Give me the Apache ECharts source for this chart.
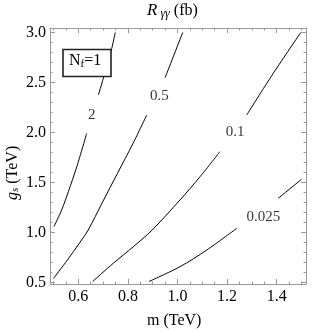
<!DOCTYPE html>
<html><head><meta charset="utf-8">
<script src="https://cdn.jsdelivr.net/npm/echarts@6/dist/echarts.min.js"></script>
<style>html,body{margin:0;padding:0;background:#fff}#c{width:332px;height:332px}</style>
</head><body><div id="c"></div>
<script>
// ---- data (m in TeV, g_s in TeV) ----
const xMajorTicks = [0.6, 0.8, 1.0, 1.2, 1.4];
const xMinorTicks = [0.5, 0.55, 0.65, 0.7, 0.75, 0.85, 0.9, 0.95, 1.05, 1.1, 1.15, 1.25, 1.3, 1.35, 1.45, 1.5];
const yMajorTicks = [0.5, 1.0, 1.5, 2.0, 2.5, 3.0];
const yMinorTicks = [0.6, 0.7, 0.8, 0.9, 1.1, 1.2, 1.3, 1.4, 1.6, 1.7, 1.8, 1.9, 2.1, 2.2, 2.3, 2.4, 2.6, 2.7, 2.8, 2.9];

// contour R_γγ = 2 fb (two segments, gap for the label)
const contour2 = [
  [[0.502, 1.06], [0.533, 1.225], [0.560, 1.408], [0.594, 1.658], [0.634, 1.992]],
  [[0.681, 2.375], [0.701, 2.542], [0.735, 2.842], [0.749, 3.0]]
];
// contour 0.5 fb
const contour05 = [
  [[0.500, 0.54], [0.556, 0.725], [0.605, 0.895], [0.640, 1.025], [0.696, 1.295], [0.758, 1.592], [0.821, 1.892], [0.876, 2.175]],
  [[0.950, 2.548], [1.021, 3.0]]
];
// contour 0.1 fb
const contour01 = [
  [[0.658, 0.51], [0.741, 0.692], [0.822, 0.858], [0.898, 1.025], [1.010, 1.325], [1.091, 1.558], [1.171, 1.808]],
  [[1.279, 2.175], [1.386, 2.592], [1.497, 3.0]]
];
// contour 0.025 fb
const contour0025 = [
  [[0.885, 0.51], [1.010, 0.658], [1.118, 0.825], [1.239, 1.042]],
  [[1.406, 1.342], [1.500, 1.532]]
];
const contourLabelNames = ['2', '0.5', '0.1', '0.025'];
const contourLabelM = [0.654, 0.927, 1.232, 1.346];
const contourLabelG = [2.175, 2.365, 2.008, 1.158];

// ---- chart ----
const FONT = "'Liberation Serif','DejaVu Serif',serif";
const FRAME = '#999';
const X_MIN = 0.486, X_MAX = 1.518, Y_MIN = 0.485, Y_MAX = 3.045;

function xAxisDef(pos, ticks, len, withLabel, withLine) {
  return {
    type: 'value', position: pos, min: X_MIN, max: X_MAX,
    axisLine: { show: withLine, onZero: false, lineStyle: { color: FRAME, width: 1 } },
    axisTick: { show: true, inside: true, length: len, customValues: ticks, lineStyle: { color: FRAME } },
    axisLabel: withLabel ? { show: true, customValues: ticks, margin: 5, color: '#000', fontFamily: FONT, fontSize: 16,
      formatter: v => v.toFixed(1) } : { show: false },
    splitLine: { show: false }
  };
}
function yAxisDef(pos, ticks, len, withLabel, withLine) {
  return {
    type: 'value', position: pos, min: Y_MIN, max: Y_MAX,
    axisLine: { show: withLine, onZero: false, lineStyle: { color: FRAME, width: 1 } },
    axisTick: { show: true, inside: true, length: len, customValues: ticks, lineStyle: { color: FRAME } },
    axisLabel: withLabel ? { show: true, customValues: ticks, margin: 4, color: '#000', fontFamily: FONT, fontSize: 16,
      formatter: v => v.toFixed(1) } : { show: false },
    splitLine: { show: false }
  };
}

const series = [];
[contour2, contour05, contour01, contour0025].forEach(c => {
  c.forEach(seg => {
    series.push({
      type: 'line', data: seg, showSymbol: false, smooth: 0.3, silent: true,
      lineStyle: { color: '#000', width: 1 }, xAxisIndex: 0, yAxisIndex: 0, z: 3
    });
  });
});
series.push({
  type: 'scatter', symbolSize: 0, xAxisIndex: 0, yAxisIndex: 0, silent: true,
  data: contourLabelNames.map((n, i) => ({ name: n, value: [contourLabelM[i], contourLabelG[i]] })),
  label: { show: true, position: 'inside', formatter: p => p.name, color: '#000', fontFamily: FONT, fontSize: 15 }
});

const chart = echarts.init(document.getElementById('c'), null, { renderer: 'canvas' });
chart.setOption({
  animation: false,
  backgroundColor: '#fff',
  grid: { left: 50, right: 26, top: 28, bottom: 48 },
  xAxis: [
    xAxisDef('bottom', xMajorTicks, 5, true, true),
    xAxisDef('bottom', xMinorTicks, 2.5, false, false),
    xAxisDef('top', xMajorTicks, 5, false, true),
    xAxisDef('top', xMinorTicks, 2.5, false, false)
  ],
  yAxis: [
    yAxisDef('left', yMajorTicks, 5, true, true),
    yAxisDef('left', yMinorTicks, 2.5, false, false),
    yAxisDef('right', yMajorTicks, 5, false, true),
    yAxisDef('right', yMinorTicks, 2.5, false, false)
  ],
  series: series,
  graphic: [
    { type: 'text', left: 147, top: 2, z: 10,
      style: { text: '{r|R}{s| γγ}{p| (fb)}', fill: '#000',
        rich: { r: { fontStyle: 'italic', fontSize: 17, fontFamily: FONT },
                s: { fontStyle: 'italic', fontSize: 12, fontFamily: FONT, verticalAlign: 'bottom', padding: [6, 0, 0, 0] },
                p: { fontSize: 16, fontFamily: FONT } } } },
    { type: 'text', left: 147, top: 313, z: 10,
      style: { text: 'm (TeV)', fill: '#000', font: "16px " + FONT } },
    { type: 'text', x: 4, y: 200, rotation: Math.PI / 2, z: 10,
      style: { text: '{g|g}{s|s}{p| (TeV)}', fill: '#000',
        rich: { g: { fontStyle: 'italic', fontSize: 16, fontFamily: FONT },
                s: { fontStyle: 'italic', fontSize: 11, fontFamily: FONT, verticalAlign: 'bottom', padding: [6, 0, 0, 0] },
                p: { fontSize: 16, fontFamily: FONT } } } },
    { type: 'rect', shape: { x: 63, y: 49.5, width: 48, height: 27 }, z: 20,
      style: { fill: '#fff', stroke: '#222', lineWidth: 1.6 } },
    { type: 'text', left: 69, top: 53, z: 21,
      style: { text: '{n|N}{s|f}{n|=1}', fill: '#000',
        rich: { n: { fontSize: 16, fontFamily: FONT },
                s: { fontSize: 11, fontFamily: FONT, verticalAlign: 'bottom', padding: [6, 0, 0, 0] } } } }
  ]
});
</script></body></html>
